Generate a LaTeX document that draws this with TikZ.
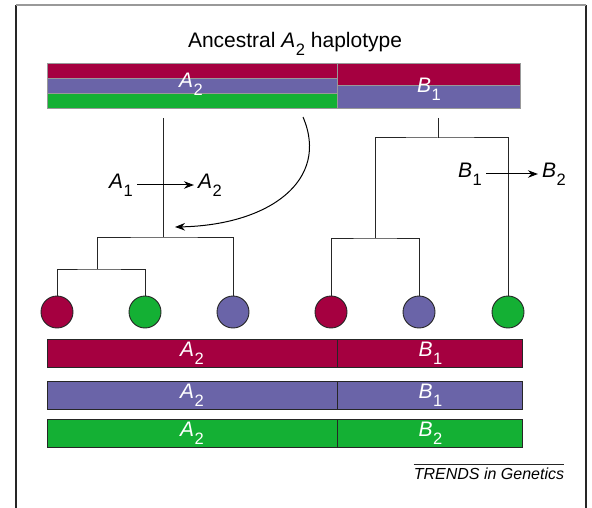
\documentclass[tikz,border=0pt]{standalone}
\usepackage{fontspec}
\setmainfont{Liberation Sans}
\usepackage{tikz}
\usetikzlibrary{positioning,calc,arrows.meta}
\definecolor{hapred}{RGB}{165,0,64}
\definecolor{hapblue}{RGB}{106,100,168}
\definecolor{hapgreen}{RGB}{20,176,52}
\newcommand{\allele}[2]{\textit{#1}\kern0.5pt\raisebox{-0.36em}{\fontsize{16.5}{16.5}\selectfont #2}}
\tikzstyle{stripe} = [rectangle, draw=gray!80, line width=0.9pt,
                      inner sep=0pt, text=white]
\tikzstyle{hapbar} = [rectangle, draw=black!85, line width=0.9pt,
                      minimum height=28pt, inner sep=0pt, text=white]
\tikzstyle{leaf} = [circle, draw=black!85, line width=0.9pt,
                    minimum size=32pt, inner sep=0pt]
\tikzstyle{branch} = [black!85, line width=1pt]
\tikzstyle{arrow} = [-{Stealth[length=10pt,width=7.5pt]}, line width=1pt]

\begin{document}
\begin{tikzpicture}[x=1pt, y=-1pt, font=\fontsize{21}{24}\selectfont]
    \useasboundingbox (0,0) rectangle (592,508);

    % Frame
    \draw[black!85, line width=1.2pt] (16,5) -- (16,508);
    \draw[black!85, line width=1.2pt] (586,5) -- (586,508);
    \draw[gray!80, line width=1.5pt] (16,5) -- (586,5);

    % Ancestral haplotype
    \node (title) at (295,44) {Ancestral \allele{A}{2} haplotype};
    \foreach \i/\col/\y in {1/hapred/70.8,2/hapblue/85.8,3/hapgreen/100.8} {
        \node[stripe, fill=\col, minimum width=290pt, minimum height=15pt] (top\i) at (192,\y) {};
    }
    \node[stripe, fill=hapred, minimum width=183pt, minimum height=22.4pt] (topr1) at (428.5,74.5) {};
    \node[stripe, fill=hapblue, minimum width=183pt, minimum height=22.6pt] (topr2) at (428.5,97) {};
    \node[text=white] (topa) at (191,84) {\allele{A}{2}};
    \node[text=white] (topb) at (429,89) {\allele{B}{1}};

    % Descendant chromosomes
    \foreach \i/\col/\x in {1/hapred/57,2/hapgreen/145,3/hapblue/233,4/hapred/331,5/hapblue/419,6/hapgreen/508} {
        \node[leaf, fill=\col] (c\i) at (\x,312) {};
    }

    % Tree of A
    \coordinate (ra) at (163,118);
    \coordinate (ja) at (163,237);
    \coordinate (jb) at (97,269);
    \draw[branch] (ra) -- (ja);
    \draw[branch] (jb) |- (ja) -| (c3);
    \draw[branch] (c1) |- (jb) -| (c2);

    % Tree of B
    \coordinate (rb) at (438,118);
    \coordinate (jc) at (438,138);
    \coordinate (jd) at (375,238);
    \draw[branch] (rb) -- (jc);
    \draw[branch] (jd) |- (jc) -| (c6);
    \draw[branch] (c4) |- (jd) -| (c5);

    % Mutations
    \node[inner sep=4pt] (ma1) at (121,185) {\allele{A}{1}};
    \node[inner sep=4pt] (ma2) at (210,185) {\allele{A}{2}};
    \draw[arrow] (ma1) -- (ma2);
    \node[inner sep=4pt] (mb1) at (470,174) {\allele{B}{1}};
    \node[inner sep=4pt] (mb2) at (554,174) {\allele{B}{2}};
    \draw[arrow] (mb1) -- (mb2);

    % Recurrent A2
    \coordinate (cs) at (303,117);
    \coordinate (ce) at (175,227);
    \draw[arrow] (cs) .. controls (330,180) and (270,225) .. (ce);

    % Present-day haplotypes
    \foreach \i/\col/\y/\b in {1/hapred/353/1,2/hapblue/395/1,3/hapgreen/433.5/2} {
        \node[hapbar, fill=\col, minimum width=290pt] (bl\i) at (192,\y) {\allele{A}{2}};
        \node[hapbar, fill=\col, minimum width=185pt, anchor=west] (br\i) at (bl\i.east) {\allele{B}{\b}};
    }

    % Journal tag
    \node[inner xsep=0pt, inner ysep=3pt, font=\fontsize{16}{19}\selectfont\itshape] (trends) at (489,474) {TRENDS in Genetics};
    \draw[black!85, line width=0.9pt] (trends.north west) -- (trends.north east);
\end{tikzpicture}
\end{document}
